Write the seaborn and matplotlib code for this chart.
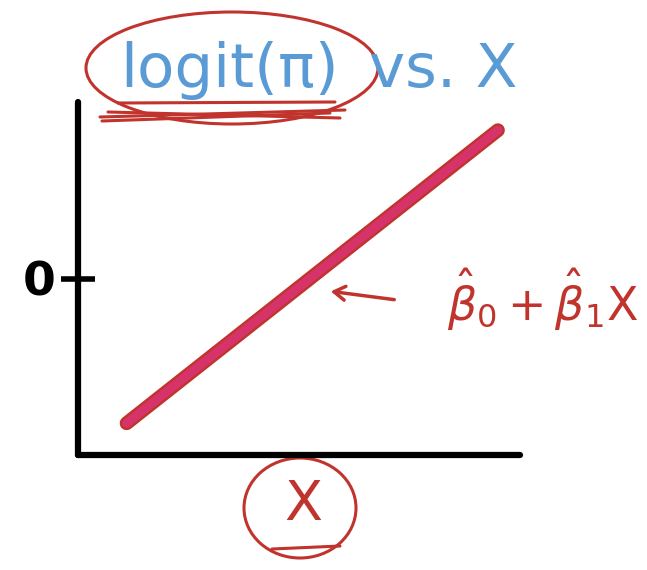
import matplotlib
matplotlib.use("Agg")
import matplotlib.pyplot as plt
import matplotlib.patches as mpatches
import seaborn as sns
import pandas as pd

# sketch data: fitted line logit(pi) = b0 + b1 X
x_vals = [1.1, 9.5]
logit_vals = [-4.1, 4.2]
y_ticks = [0]
y_tick_labels = ["0"]

title_left = "logit(π)"
title_right = "vs. X"
x_label = "X"
line_label = r"$\hat{\beta}_0+\hat{\beta}_1 \mathrm{X}$"

blue = "#5b9bd5"
red = "#c0342d"
pink = "#d6336a"

sns.set_style("white")
plt.rcParams["font.family"] = ["DejaVu Sans"]

W, H = 647, 570
fig = plt.figure(figsize=(W / 100, H / 100), dpi=100)

# overlay axes in pixel coordinates for the hand-drawn decorations
deco = fig.add_axes([0, 0, 1, 1])
deco.set_xlim(0, W)
deco.set_ylim(H, 0)
deco.axis("off")

# main axes
left, right, top, bottom = 78, 520, 102, 455
ax = fig.add_axes([left / W, (H - bottom) / H, (right - left) / W, (bottom - top) / H])
ax.patch.set_alpha(0)

df = pd.DataFrame({"X": x_vals, "logit": logit_vals})
sns.lineplot(data=df, x="X", y="logit", ax=ax, color=red, lw=10,
             solid_capstyle="round")
sns.lineplot(data=df, x="X", y="logit", ax=ax, color=pink, lw=6.5,
             solid_capstyle="round")

ax.set_xlim(0, 10)
ax.set_ylim(-5, 5)
ax.set_xlabel("")
ax.set_ylabel("")
ax.set_xticks([])
ax.set_yticks(y_ticks)
ax.set_yticklabels(y_tick_labels, fontsize=34, fontweight="bold", color="black")
ax.tick_params(axis="y", left=True, direction="inout", length=24, width=4,
               pad=4, color="black")
for s in ["top", "right"]:
    ax.spines[s].set_visible(False)
for s in ["left", "bottom"]:
    ax.spines[s].set_linewidth(4.5)
    ax.spines[s].set_color("black")
    ax.spines[s].set_capstyle("round")

# title
deco.text(230, 70, title_left, color=blue, fontsize=44, ha="center",
          va="center")
deco.text(443, 70, title_right, color=blue, fontsize=44, ha="center",
          va="center")
deco.add_patch(mpatches.Ellipse((232, 68), 292, 112, fill=False,
                                edgecolor=red, lw=2.2))
for y0, y1, x0, x1 in [(103, 102, 118, 335), (117, 110, 100, 345),
                       (112, 118, 108, 340), (121, 113, 102, 330)]:
    deco.plot([x0, x1], [y0, y1], color=red, lw=2.2, solid_capstyle="round")

# x label
deco.text(303, 505, x_label, color=red, fontsize=40, ha="center",
          va="center")
deco.add_patch(mpatches.Ellipse((300, 508), 112, 100, fill=False,
                                edgecolor=red, lw=2.2))
deco.plot([272, 340], [549, 546], color=red, lw=2.2, solid_capstyle="round")

# line annotation
deco.text(543, 300, line_label, color=red, fontsize=33, ha="center",
          va="center")
deco.annotate("", xy=(328, 291), xytext=(397, 300),
              arrowprops=dict(arrowstyle="->,head_length=0.8,head_width=0.5",
                              color=red, lw=2.5))

# stray stroke at the bottom right
deco.add_patch(mpatches.Arc((555, 585), 50, 60, theta1=20, theta2=160,
                            edgecolor=red, lw=2.2))

fig.savefig("out.png", dpi=100)
